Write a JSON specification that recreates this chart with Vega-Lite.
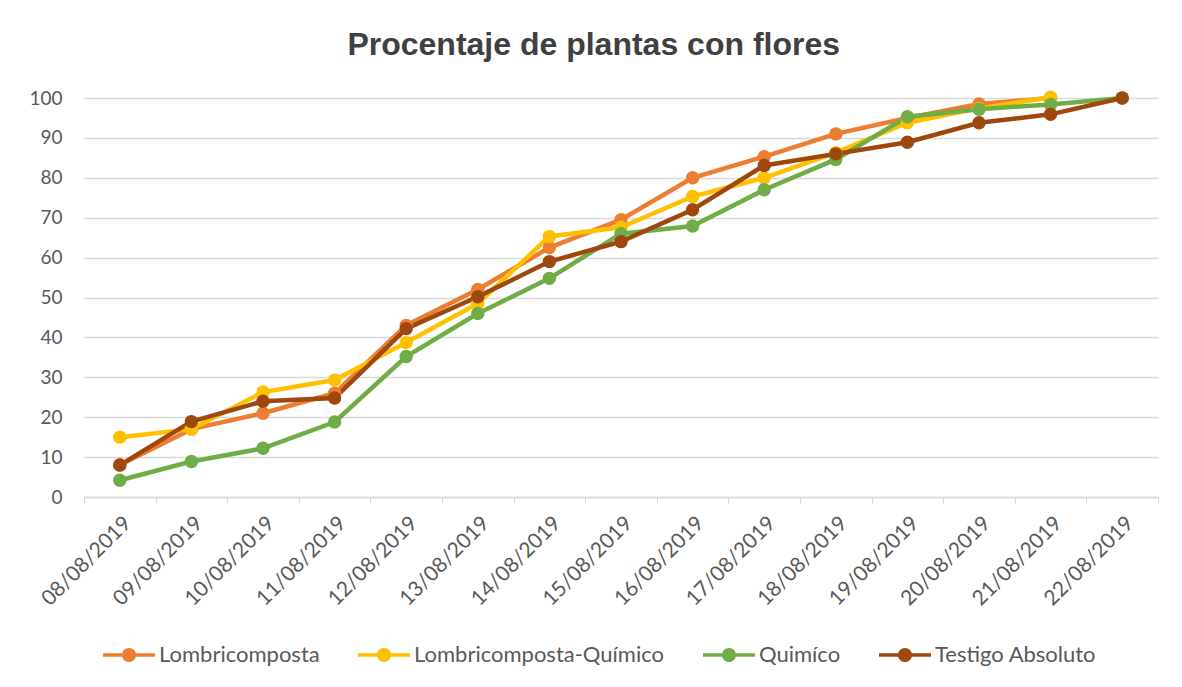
{
  "$schema": "https://vega.github.io/schema/vega-lite/v6.json",
  "autosize": {"type": "none"},
  "width": 1074,
  "height": 399,
  "padding": {"left": 84, "top": 98, "right": 24, "bottom": 190},
  "background": "white",
  "title": {
    "text": "Procentaje de plantas con flores",
    "font": "Liberation Sans",
    "fontSize": 32,
    "fontWeight": "bold",
    "color": "#404040",
    "anchor": "middle",
    "frame": "bounds",
    "offset": 26
  },
  "data": {
    "values": [
      {"fecha": "08/08/2019", "serie": "Lombricomposta", "valor": 8},
      {"fecha": "09/08/2019", "serie": "Lombricomposta", "valor": 17},
      {"fecha": "10/08/2019", "serie": "Lombricomposta", "valor": 21},
      {"fecha": "11/08/2019", "serie": "Lombricomposta", "valor": 26},
      {"fecha": "12/08/2019", "serie": "Lombricomposta", "valor": 43},
      {"fecha": "13/08/2019", "serie": "Lombricomposta", "valor": 52},
      {"fecha": "14/08/2019", "serie": "Lombricomposta", "valor": 62.5},
      {"fecha": "15/08/2019", "serie": "Lombricomposta", "valor": 69.5},
      {"fecha": "16/08/2019", "serie": "Lombricomposta", "valor": 80},
      {"fecha": "17/08/2019", "serie": "Lombricomposta", "valor": 85.3},
      {"fecha": "18/08/2019", "serie": "Lombricomposta", "valor": 91},
      {"fecha": "19/08/2019", "serie": "Lombricomposta", "valor": 95},
      {"fecha": "20/08/2019", "serie": "Lombricomposta", "valor": 98.5},
      {"fecha": "21/08/2019", "serie": "Lombricomposta", "valor": 100},
      {"fecha": "08/08/2019", "serie": "Lombricomposta-Químico", "valor": 15},
      {"fecha": "09/08/2019", "serie": "Lombricomposta-Químico", "valor": 17},
      {"fecha": "10/08/2019", "serie": "Lombricomposta-Químico", "valor": 26.3},
      {"fecha": "11/08/2019", "serie": "Lombricomposta-Químico", "valor": 29.3},
      {"fecha": "12/08/2019", "serie": "Lombricomposta-Químico", "valor": 38.7},
      {"fecha": "13/08/2019", "serie": "Lombricomposta-Químico", "valor": 48.5},
      {"fecha": "14/08/2019", "serie": "Lombricomposta-Químico", "valor": 65.3},
      {"fecha": "15/08/2019", "serie": "Lombricomposta-Químico", "valor": 67.6},
      {"fecha": "16/08/2019", "serie": "Lombricomposta-Químico", "valor": 75.3},
      {"fecha": "17/08/2019", "serie": "Lombricomposta-Químico", "valor": 80},
      {"fecha": "18/08/2019", "serie": "Lombricomposta-Químico", "valor": 86.3},
      {"fecha": "19/08/2019", "serie": "Lombricomposta-Químico", "valor": 93.8},
      {"fecha": "20/08/2019", "serie": "Lombricomposta-Químico", "valor": 97.4},
      {"fecha": "21/08/2019", "serie": "Lombricomposta-Químico", "valor": 100.2},
      {"fecha": "08/08/2019", "serie": "Quimíco", "valor": 4.2},
      {"fecha": "09/08/2019", "serie": "Quimíco", "valor": 8.9},
      {"fecha": "10/08/2019", "serie": "Quimíco", "valor": 12.2},
      {"fecha": "11/08/2019", "serie": "Quimíco", "valor": 18.8},
      {"fecha": "12/08/2019", "serie": "Quimíco", "valor": 35.2},
      {"fecha": "13/08/2019", "serie": "Quimíco", "valor": 46},
      {"fecha": "14/08/2019", "serie": "Quimíco", "valor": 54.8},
      {"fecha": "15/08/2019", "serie": "Quimíco", "valor": 66},
      {"fecha": "16/08/2019", "serie": "Quimíco", "valor": 67.9},
      {"fecha": "17/08/2019", "serie": "Quimíco", "valor": 77},
      {"fecha": "18/08/2019", "serie": "Quimíco", "valor": 84.6},
      {"fecha": "19/08/2019", "serie": "Quimíco", "valor": 95.3},
      {"fecha": "20/08/2019", "serie": "Quimíco", "valor": 97.2},
      {"fecha": "21/08/2019", "serie": "Quimíco", "valor": 98.4},
      {"fecha": "22/08/2019", "serie": "Quimíco", "valor": 100},
      {"fecha": "08/08/2019", "serie": "Testigo Absoluto", "valor": 8},
      {"fecha": "09/08/2019", "serie": "Testigo Absoluto", "valor": 18.9},
      {"fecha": "10/08/2019", "serie": "Testigo Absoluto", "valor": 24},
      {"fecha": "11/08/2019", "serie": "Testigo Absoluto", "valor": 24.8},
      {"fecha": "12/08/2019", "serie": "Testigo Absoluto", "valor": 42.2},
      {"fecha": "13/08/2019", "serie": "Testigo Absoluto", "valor": 50.2},
      {"fecha": "14/08/2019", "serie": "Testigo Absoluto", "valor": 59},
      {"fecha": "15/08/2019", "serie": "Testigo Absoluto", "valor": 64},
      {"fecha": "16/08/2019", "serie": "Testigo Absoluto", "valor": 72},
      {"fecha": "17/08/2019", "serie": "Testigo Absoluto", "valor": 83.1},
      {"fecha": "18/08/2019", "serie": "Testigo Absoluto", "valor": 86},
      {"fecha": "19/08/2019", "serie": "Testigo Absoluto", "valor": 88.9},
      {"fecha": "20/08/2019", "serie": "Testigo Absoluto", "valor": 93.8},
      {"fecha": "21/08/2019", "serie": "Testigo Absoluto", "valor": 95.9},
      {"fecha": "22/08/2019", "serie": "Testigo Absoluto", "valor": 100}
    ]
  },
  "encoding": {
    "x": {
      "field": "fecha",
      "type": "ordinal",
      "sort": null,
      "scale": {"type": "band", "paddingInner": 0, "paddingOuter": 0},
      "axis": {
        "title": null,
        "labelAngle": -45,
        "labelFont": "Lato",
        "labelFontSize": 21,
        "labelColor": "#595959",
        "labelPadding": 9,
        "tickBand": "extent",
        "tickColor": "#d9d9d9",
        "tickSize": 6,
        "domainColor": "#d9d9d9",
        "domainWidth": 1.5,
        "grid": false
      }
    },
    "y": {
      "field": "valor",
      "type": "quantitative",
      "scale": {"domain": [0, 100], "nice": false, "clamp": false},
      "axis": {
        "title": null,
        "values": [0, 10, 20, 30, 40, 50, 60, 70, 80, 90, 100],
        "labelFont": "Lato",
        "labelFontSize": 19,
        "labelColor": "#595959",
        "labelPadding": 22,
        "ticks": false,
        "domain": false,
        "grid": true,
        "gridColor": "#d9d9d9",
        "gridWidth": 1.5
      }
    },
    "color": {
      "field": "serie",
      "type": "nominal",
      "sort": ["Lombricomposta", "Lombricomposta-Químico", "Quimíco", "Testigo Absoluto"],
      "scale": {
        "domain": ["Lombricomposta", "Lombricomposta-Químico", "Quimíco", "Testigo Absoluto"],
        "range": ["#ED7D31", "#FFC000", "#70AD47", "#9E480E"]
      },
      "legend": {
        "title": null,
        "orient": "none",
        "legendX": 19,
        "legendY": 531,
        "direction": "horizontal",
        "labelFont": "Lato",
        "labelFontSize": 22,
        "labelColor": "#595959",
        "labelLimit": 500,
        "labelOffset": 4,
        "columnPadding": 38,
        "symbolType": "M-1,-0.065H1V0.065H-1Z M0.27,0A0.27,0.27,0,1,1,-0.27,0A0.27,0.27,0,1,1,0.27,0Z",
        "symbolSize": 2704,
        "symbolStrokeWidth": 0
      }
    }
  },
  "layer": [
    {"mark": {"type": "line", "strokeWidth": 4.5}},
    {"mark": {"type": "point", "filled": true, "size": 180, "opacity": 1}}
  ],
  "config": {"view": {"stroke": null}}
}
